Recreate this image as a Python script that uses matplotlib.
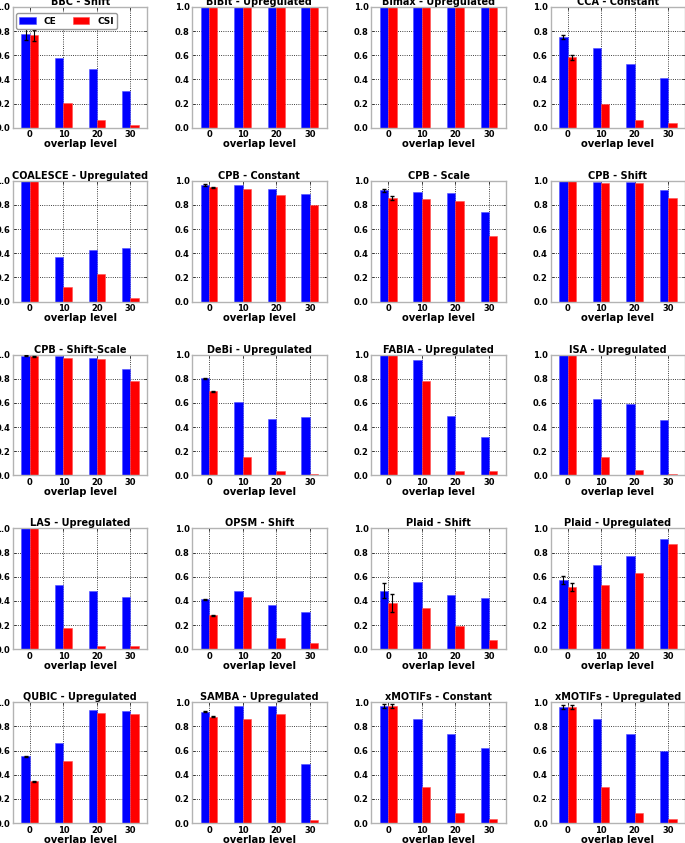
import numpy as np
import matplotlib
matplotlib.use('Agg')
import matplotlib.pyplot as plt

plt.rcParams['font.family'] = 'DejaVu Sans'
plt.rcParams['font.weight'] = 'bold'

levels = ['0', '10', '20', '30']

titles = ['BBC - Shift', 'BiBit - Upregulated', 'Bimax - Upregulated', 'CCA - Constant',
          'COALESCE - Upregulated', 'CPB - Constant', 'CPB - Scale', 'CPB - Shift',
          'CPB - Shift-Scale', 'DeBi - Upregulated', 'FABIA - Upregulated', 'ISA - Upregulated',
          'LAS - Upregulated', 'OPSM - Shift', 'Plaid - Shift', 'Plaid - Upregulated',
          'QUBIC - Upregulated', 'SAMBA - Upregulated', 'xMOTIFs - Constant', 'xMOTIFs - Upregulated']

ce = [[0.78, 0.58, 0.485, 0.305],
      [1.0, 1.0, 1.0, 1.0],
      [1.0, 1.0, 1.0, 1.0],
      [0.75, 0.66, 0.53, 0.41],
      [1.0, 0.37, 0.43, 0.44],
      [0.965, 0.965, 0.935, 0.89],
      [0.92, 0.905, 0.895, 0.74],
      [0.995, 0.99, 0.99, 0.92],
      [0.99, 0.985, 0.975, 0.885],
      [0.805, 0.605, 0.47, 0.485],
      [1.0, 0.955, 0.495, 0.32],
      [1.0, 0.635, 0.59, 0.46],
      [1.0, 0.53, 0.48, 0.435],
      [0.415, 0.48, 0.37, 0.31],
      [0.485, 0.555, 0.45, 0.425],
      [0.575, 0.70, 0.775, 0.91],
      [0.555, 0.665, 0.94, 0.925],
      [0.92, 0.97, 0.97, 0.49],
      [0.97, 0.865, 0.735, 0.62],
      [0.96, 0.86, 0.74, 0.60]]

csi = [[0.765, 0.205, 0.065, 0.025],
       [1.0, 1.0, 1.0, 1.0],
       [1.0, 1.0, 1.0, 1.0],
       [0.585, 0.20, 0.06, 0.04],
       [1.0, 0.12, 0.23, 0.03],
       [0.945, 0.93, 0.885, 0.80],
       [0.86, 0.85, 0.835, 0.54],
       [0.995, 0.98, 0.98, 0.855],
       [0.985, 0.975, 0.96, 0.78],
       [0.695, 0.15, 0.035, 0.015],
       [1.0, 0.785, 0.035, 0.035],
       [1.0, 0.155, 0.045, 0.015],
       [1.0, 0.175, 0.03, 0.025],
       [0.28, 0.43, 0.095, 0.055],
       [0.38, 0.345, 0.19, 0.075],
       [0.515, 0.535, 0.63, 0.875],
       [0.345, 0.515, 0.91, 0.90],
       [0.88, 0.86, 0.905, 0.025],
       [0.97, 0.30, 0.08, 0.03],
       [0.96, 0.30, 0.08, 0.03]]

# error only at overlap level 0
ce_err = [0.057, 0, 0, 0.015, 0, 0.005, 0.01, 0, 0.004, 0.004,
          0, 0, 0, 0.004, 0.065, 0.035, 0.004, 0.004, 0.015, 0.015]
csi_err = [0.047, 0, 0, 0.02, 0, 0.006, 0.015, 0, 0.004, 0.004,
           0, 0, 0, 0.004, 0.075, 0.035, 0.004, 0.004, 0.015, 0.015]

fig, axes = plt.subplots(5, 4, figsize=(6.85, 8.43), dpi=100)
plt.subplots_adjust(left=0.019, right=1.0, top=0.9917, bottom=0.0237,
                    wspace=0.335, hspace=0.44)

x = np.arange(len(levels))
w = 0.25
for i, ax in enumerate(axes.flat):
    ax.bar(x - w, ce[i], w, align='edge', color='#0000ff', edgecolor='#5050ff',
           linewidth=0.4, label='CE', zorder=2)
    ax.bar(x, csi[i], w, align='edge', color='#ff0000', edgecolor='#ff5050',
           linewidth=0.4, label='CSI', zorder=2)
    if ce_err[i] > 0:
        ax.errorbar(x[0] - w / 2, ce[i][0], yerr=ce_err[i], fmt='none',
                    ecolor='black', elinewidth=0.8, capsize=1.5, zorder=3)
        ax.errorbar(x[0] + w / 2, csi[i][0], yerr=csi_err[i], fmt='none',
                    ecolor='black', elinewidth=0.8, capsize=1.5, zorder=3)
    ax.set_xlim(-0.5, 3.5)
    ax.set_ylim(0, 1.0)
    ax.set_xticks(x)
    ax.set_xticklabels(levels)
    ax.set_yticks(np.arange(0, 1.01, 0.2))
    ax.set_yticklabels(['%.1f' % v for v in np.arange(0, 1.01, 0.2)])
    ax.tick_params(labelsize=6, direction='in', top=True, right=True,
                   length=2, width=0.5, pad=2)
    ax.grid(True, color='black', linestyle=':', linewidth=0.6, zorder=1)
    ax.set_axisbelow(True)
    for sp in ax.spines.values():
        sp.set_color('0.7')
        sp.set_linewidth(1.0)
    ax.set_title(titles[i], fontsize=7, fontweight='bold', pad=1.5)
    ax.set_xlabel('overlap level', fontsize=7.2, fontweight='bold', labelpad=0)

axes[0, 0].legend(loc='upper left', bbox_to_anchor=(0.02, 0.95), ncol=2,
                  fancybox=True, framealpha=1, edgecolor='0.6', borderaxespad=0,
                  handlelength=1.8, columnspacing=1.8, handletextpad=0.9,
                  borderpad=0.4, prop={'weight': 'bold', 'size': 6.5})

fig.savefig('out.png', dpi=100)
